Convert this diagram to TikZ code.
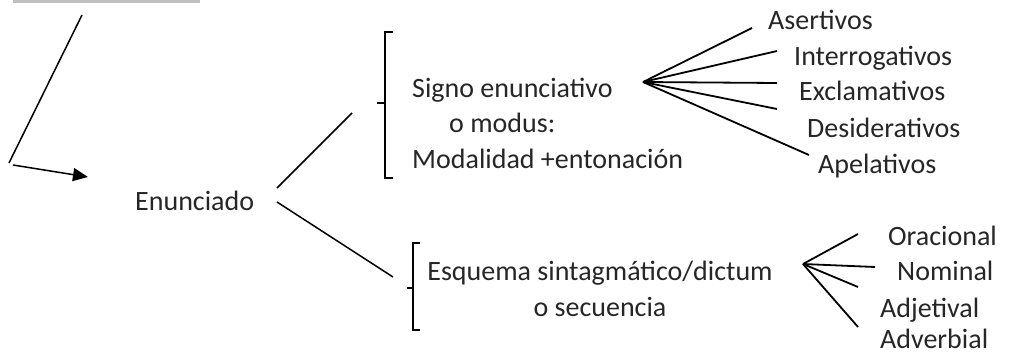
\documentclass[tikz,border=0pt]{standalone}
\usepackage{fontspec}
\setmainfont{Carlito}
\usetikzlibrary{arrows.meta}
\tikzset{
	lbl/.style={inner sep=0pt, anchor=base west, text=black!85, font=\fontsize{28}{35.5}\selectfont},
	fan/.style={line width=1.8pt},
	conn/.style={line width=1.5pt},
	brk/.style={line width=1.1pt}
}

\begin{document}
\begin{tikzpicture}[x=1pt,y=-1pt]
	\useasboundingbox (0,0) rectangle (1010,356);
	\fill[black!25] (13,0) rectangle (200,3);
	% arrow
	\coordinate (top) at (82,15);
	\coordinate (corner) at (9,163);
	\coordinate (start) at (13,165);
	\coordinate (tip) at (88,177);
	\draw[conn] (top) -- (corner);
	\draw[conn, -{Triangle[length=15pt,width=13pt]}] (start) -- (tip);

	\node[lbl] (enun) at (135,210) {Enunciado};
	\node[lbl, align=left] (signo) at (412,168) {Signo enunciativo\\\hspace*{37pt}o modus:\\Modalidad +entonación};
	\node[lbl, align=center, anchor=base] (esq) at (600,316) {Esquema sintagmático/dictum\\o secuencia};

	\coordinate (en-up) at (277,188);
	\coordinate (en-dn) at (277,202);
	\coordinate (sg-in) at (352,113);
	\coordinate (eq-in) at (393,277);
	\draw[conn] (en-up) -- (sg-in);
	\draw[conn] (en-dn) -- (eq-in);

	% brackets
	\draw[brk] (393,32) -- (385,32) -- (385,178) -- (393,178);
	\draw[brk] (377,103) -- (385,103);
	\draw[brk] (420,243) -- (413,243) -- (413,330) -- (420,330);
	\draw[brk] (407,288) -- (413,288);

	% first fan
	\node[lbl] (asert) at (768,30) {Asertivos};
	\node[lbl] (interr) at (794,65) {Interrogativos};
	\node[lbl] (exclam) at (799,100) {Exclamativos};
	\node[lbl] (desid) at (807,137) {Desiderativos};
	\node[lbl] (apel) at (818,173) {Apelativos};
	\coordinate (ft) at (643,82);
	\coordinate (asert-e) at (752,28);
	\coordinate (interr-e) at (777,51);
	\coordinate (exclam-e) at (777,83);
	\coordinate (desid-e) at (777,109);
	\coordinate (apel-e) at (809,155);
	\foreach \n in {asert, interr, exclam, desid, apel}
	{\draw[fan] (ft) -- (\n-e);}

	% second fan
	\node[lbl] (orac) at (888,245) {Oracional};
	\node[lbl] (nomin) at (897,280) {Nominal};
	\node[lbl] (adjet) at (880,317) {Adjetival};
	\node[lbl] (adverb) at (880,348) {Adverbial};
	\coordinate (fb) at (803,264);
	\coordinate (orac-e) at (858,234);
	\coordinate (nomin-e) at (875,267);
	\coordinate (adjet-e) at (858,287);
	\coordinate (adverb-e) at (858,327);
	\foreach \n in {orac, nomin, adjet, adverb}
	{\draw[fan] (fb) -- (\n-e);}
\end{tikzpicture}
\end{document}
